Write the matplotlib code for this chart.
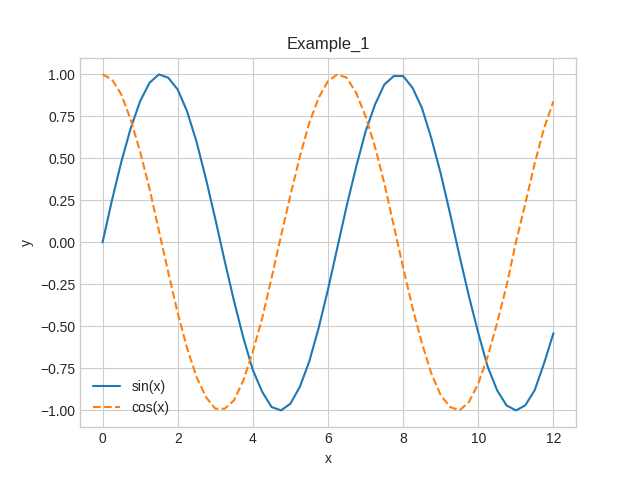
import matplotlib
matplotlib.use("Agg")
import matplotlib.pyplot as plt

x = [i * 0.25 for i in range(49)]
sin_y = [0, 0.25, 0.48, 0.68, 0.84, 0.95, 1.00, 0.98, 0.91, 0.78, 0.60, 0.38, 0.14,
         -0.11, -0.35, -0.57, -0.76, -0.89, -0.98, -1.00, -0.96, -0.86, -0.71, -0.51, -0.28,
         -0.03, 0.22, 0.45, 0.66, 0.82, 0.94, 0.99, 0.99, 0.92, 0.80, 0.62, 0.41,
         0.17, -0.08, -0.32, -0.54, -0.74, -0.88, -0.97, -1.00, -0.97, -0.88, -0.72, -0.54]
cos_y = [1.00, 0.97, 0.88, 0.73, 0.54, 0.32, 0.07, -0.18, -0.42, -0.63, -0.80, -0.92, -0.99,
         -0.99, -0.94, -0.82, -0.65, -0.45, -0.21, 0.04, 0.28, 0.51, 0.71, 0.86, 0.96,
         1.00, 0.98, 0.89, 0.75, 0.57, 0.35, 0.10, -0.15, -0.39, -0.60, -0.78, -0.91,
         -0.98, -1.00, -0.95, -0.84, -0.68, -0.48, -0.26, 0.00, 0.23, 0.47, 0.68, 0.84]

plt.style.use("seaborn-v0_8-whitegrid")
fig, ax = plt.subplots(figsize=(6.4, 4.8), dpi=100)
ax.plot(x, sin_y, "-", label="sin(x)")
ax.plot(x, cos_y, "--", label="cos(x)")
ax.set_title("Example_1")
ax.set_xlabel("x")
ax.set_ylabel("y")
ax.legend(loc="lower left")
for s in ax.spines.values():
    s.set_visible(True)
    s.set_color("#cccccc")
fig.savefig("out.png")
